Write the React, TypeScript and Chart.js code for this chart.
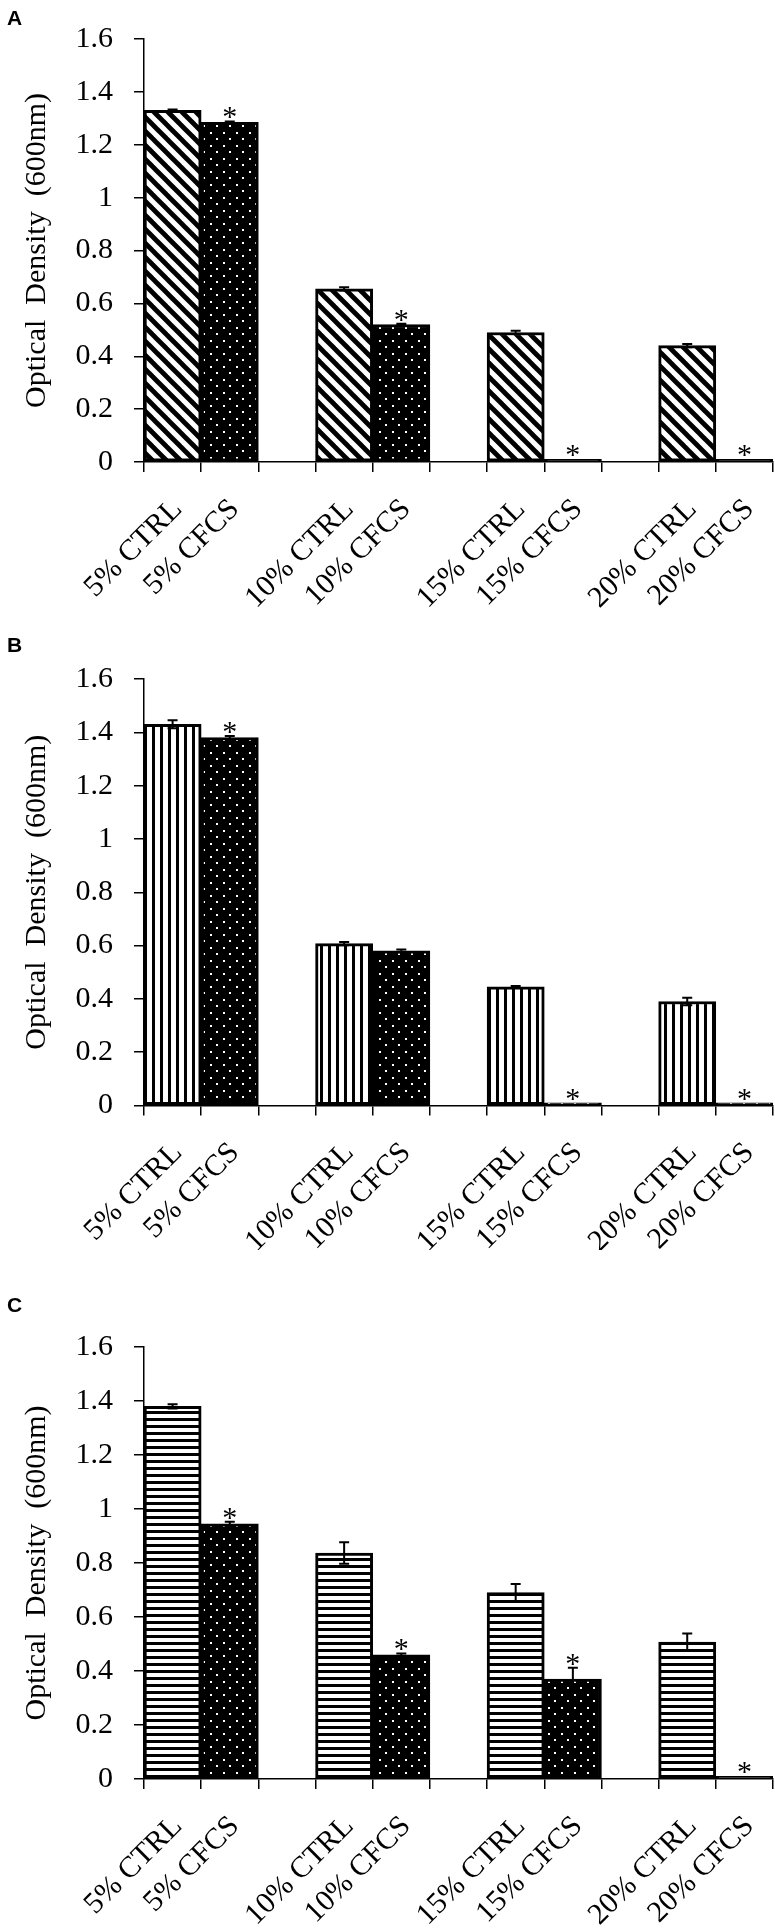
import React, { useEffect, useRef } from 'react';
import { Chart, registerables } from 'chart.js';

Chart.register(...registerables);

// ---------- data ----------
const categories = ['5% CTRL', '5% CFCS', '', '10% CTRL', '10% CFCS', '', '15% CTRL', '15% CFCS', '', '20% CTRL', '20% CFCS'];
const yTickMin = 0;
const yTickMax = 1.6;
const yTickStep = 0.2;
const yAxisTitle = 'Optical  Density  (600nm)';

// Panel A
const ctrlA = [1.33, 0.655, 0.49, 0.44];
const errCtrlA = [0.003, 0.006, 0.006, 0.006];
const cfcsA = [1.285, 0.52, 0.01, 0.01];
const errCfcsA = [0.003, 0.003, 0, 0];
const starA = [true, true, true, true];

// Panel B
const ctrlB = [1.43, 0.607, 0.445, 0.39];
const errCtrlB = [0.015, 0.006, 0.003, 0.014];
const cfcsB = [1.38, 0.58, 0.01, 0.01];
const errCfcsB = [0.006, 0.005, 0, 0];
const starB = [true, false, true, true];

// Panel C
const ctrlC = [1.38, 0.837, 0.69, 0.507];
const errCtrlC = [0.008, 0.04, 0.032, 0.032];
const cfcsC = [0.945, 0.46, 0.37, 0.01];
const errCfcsC = [0.008, 0.005, 0.042, 0];
const starC = [true, true, true, true];

// ---------- helpers ----------
const SERIF = '"Liberation Serif", "Times New Roman", serif';

// spread 4 group values into the 11 category slots
function spread(vals: any[], slot: number): any[] {
  const out: any[] = new Array(categories.length).fill(null);
  vals.forEach((v, g) => {
    out[g * 3 + slot] = v;
  });
  return out;
}

function makePattern(kind: string): CanvasPattern | string {
  const c = document.createElement('canvas');
  const x = c.getContext('2d');
  if (!x) return '#000';
  if (kind === 'diag') {
    const s = 14;
    c.width = s; c.height = s;
    x.fillStyle = '#fff'; x.fillRect(0, 0, s, s);
    x.strokeStyle = '#000'; x.lineWidth = 4.8;
    for (let k = -1; k <= 1; k++) {
      x.beginPath();
      x.moveTo(k * s - 2, -2);
      x.lineTo(k * s + s + 2, s + 2);
      x.stroke();
    }
  } else if (kind === 'vert') {
    c.width = 8; c.height = 4;
    x.fillStyle = '#fff'; x.fillRect(0, 0, 8, 4);
    x.fillStyle = '#000'; x.fillRect(0, 0, 3, 4);
  } else if (kind === 'horiz') {
    c.width = 4; c.height = 7;
    x.fillStyle = '#fff'; x.fillRect(0, 0, 4, 7);
    x.fillStyle = '#000'; x.fillRect(0, 0, 4, 3);
  } else {
    const s = 13;
    c.width = s; c.height = s;
    x.fillStyle = '#000'; x.fillRect(0, 0, s, s);
    x.fillStyle = '#fff';
    x.fillRect(2, 2, 2, 2);
    x.fillRect(8, 8, 2, 2);
  }
  return x.createPattern(c, 'repeat') || '#000';
}

const extrasPlugin = {
  id: 'extras',
  afterDatasetsDraw(chart: any, _args: any, opts: any) {
    const { ctx } = chart;
    const yScale = chart.scales.y;
    ctx.save();
    chart.data.datasets.forEach((ds: any, di: number) => {
      const meta = chart.getDatasetMeta(di);
      const errs = opts.errors[di];
      const stars = opts.stars[di];
      meta.data.forEach((bar: any, i: number) => {
        const v = ds.data[i];
        if (v == null) return;
        const e = errs[i] || 0;
        const cx = bar.x;
        let topPx = yScale.getPixelForValue(v);
        if (e > 0) {
          const hi = yScale.getPixelForValue(v + e);
          const lo = yScale.getPixelForValue(v - e);
          ctx.strokeStyle = '#000';
          ctx.lineWidth = 2;
          ctx.beginPath();
          ctx.moveTo(cx, hi); ctx.lineTo(cx, lo);
          ctx.moveTo(cx - 5, hi); ctx.lineTo(cx + 5, hi);
          ctx.moveTo(cx - 5, lo); ctx.lineTo(cx + 5, lo);
          ctx.stroke();
          topPx = Math.min(topPx, hi);
        }
        if (stars && stars[i]) {
          ctx.fillStyle = '#000';
          ctx.font = `30px ${SERIF}`;
          ctx.textAlign = 'center';
          ctx.textBaseline = 'alphabetic';
          ctx.fillText('*', cx, topPx + 5);
        }
      });
    });
    ctx.restore();
  },
  afterDraw(chart: any, _args: any, opts: any) {
    const { ctx } = chart;
    ctx.save();
    ctx.fillStyle = '#000';
    ctx.font = 'bold 21px "Liberation Sans", Arial, sans-serif';
    ctx.textAlign = 'left';
    ctx.textBaseline = 'alphabetic';
    ctx.fillText(opts.letter, 7, opts.letterY);
    ctx.restore();
  },
};

type PanelProps = {
  letter: string;
  letterY: number;
  height: number;
  axisTop: number;
  axisBottom: number;
  ctrl: number[];
  cfcs: number[];
  errCtrl: number[];
  errCfcs: number[];
  stars: boolean[];
  ctrlPattern: string;
};

function Panel(p: PanelProps) {
  const ref = useRef<HTMLCanvasElement | null>(null);
  useEffect(() => {
    if (!ref.current) return;
    const xh = p.height - p.axisBottom;
    const chart = new Chart(ref.current, {
      type: 'bar',
      data: {
        labels: categories,
        datasets: [
          {
            label: 'CTRL',
            data: spread(p.ctrl, 0),
            backgroundColor: makePattern(p.ctrlPattern) as any,
            borderColor: '#000',
            borderWidth: 3,
            borderSkipped: false,
            barPercentage: 1,
            categoryPercentage: 1,
          },
          {
            label: 'CFCS',
            data: spread(p.cfcs, 1),
            backgroundColor: makePattern('dots') as any,
            borderColor: '#000',
            borderWidth: 3,
            borderSkipped: false,
            barPercentage: 1,
            categoryPercentage: 1,
          },
        ],
      },
      options: {
        responsive: false,
        animation: false,
        devicePixelRatio: 1,
        layout: { padding: { top: p.axisTop, right: 2, left: 0, bottom: 0 } },
        plugins: {
          legend: { display: false },
          tooltip: { enabled: false },
          extras: {
            letter: p.letter,
            letterY: p.letterY,
            errors: [spread(p.errCtrl, 0), spread(p.errCfcs, 1)],
            stars: [spread(p.ctrl.map(() => false), 0), spread(p.stars, 1)],
          },
        } as any,
        scales: {
          x: {
            stacked: true,
            grid: {
              display: true,
              drawOnChartArea: false,
              drawTicks: true,
              tickLength: 10,
              color: '#000',
              lineWidth: 1.5,
              offset: true,
            },
            border: { display: true, color: '#000', width: 1.5 },
            ticks: {
              autoSkip: false,
              maxRotation: 45,
              minRotation: 45,
              padding: 20,
              labelOffset: 5,
              color: '#000',
              font: { family: SERIF, size: 30 },
            },
            afterFit: (s: any) => {
              s.height = xh;
              s.paddingLeft = 0;
              s.paddingRight = 0;
            },
          },
          y: {
            min: yTickMin,
            max: yTickMax,
            ticks: {
              stepSize: yTickStep,
              padding: 21,
              color: '#000',
              font: { family: SERIF, size: 30 },
              callback: (v: any) => Number(v).toFixed(1).replace(/\.0$/, ''),
            },
            grid: {
              drawOnChartArea: false,
              drawTicks: true,
              tickLength: 10,
              color: '#000',
              lineWidth: 1.5,
            },
            border: { display: true, color: '#000', width: 1.5 },
            title: {
              display: true,
              text: yAxisTitle,
              color: '#000',
              font: { family: SERIF, size: 30 },
              padding: { top: 19, bottom: 0 },
            },
            afterFit: (s: any) => {
              s.width = 144;
            },
          },
        },
      } as any,
      plugins: [extrasPlugin as any],
    });
    return () => chart.destroy();
  }, []);
  return <canvas ref={ref} width={775} height={p.height} style={{ display: 'block', width: 775, height: p.height }} />;
}

export default function App() {
  return (
    <div style={{ position: 'absolute', left: 0, top: 0, width: 775, height: 1928, background: '#fff' }}>
      <Panel letter="A" letterY={25} height={620} axisTop={29} axisBottom={462}
        ctrl={ctrlA} cfcs={cfcsA} errCtrl={errCtrlA} errCfcs={errCfcsA} stars={starA} ctrlPattern="diag" />
      <Panel letter="B" letterY={32} height={630} axisTop={59} axisBottom={485.5}
        ctrl={ctrlB} cfcs={cfcsB} errCtrl={errCtrlB} errCfcs={errCfcsB} stars={starB} ctrlPattern="vert" />
      <Panel letter="C" letterY={62} height={678} axisTop={97} axisBottom={529}
        ctrl={ctrlC} cfcs={cfcsC} errCtrl={errCtrlC} errCfcs={errCfcsC} stars={starC} ctrlPattern="horiz" />
    </div>
  );
}
